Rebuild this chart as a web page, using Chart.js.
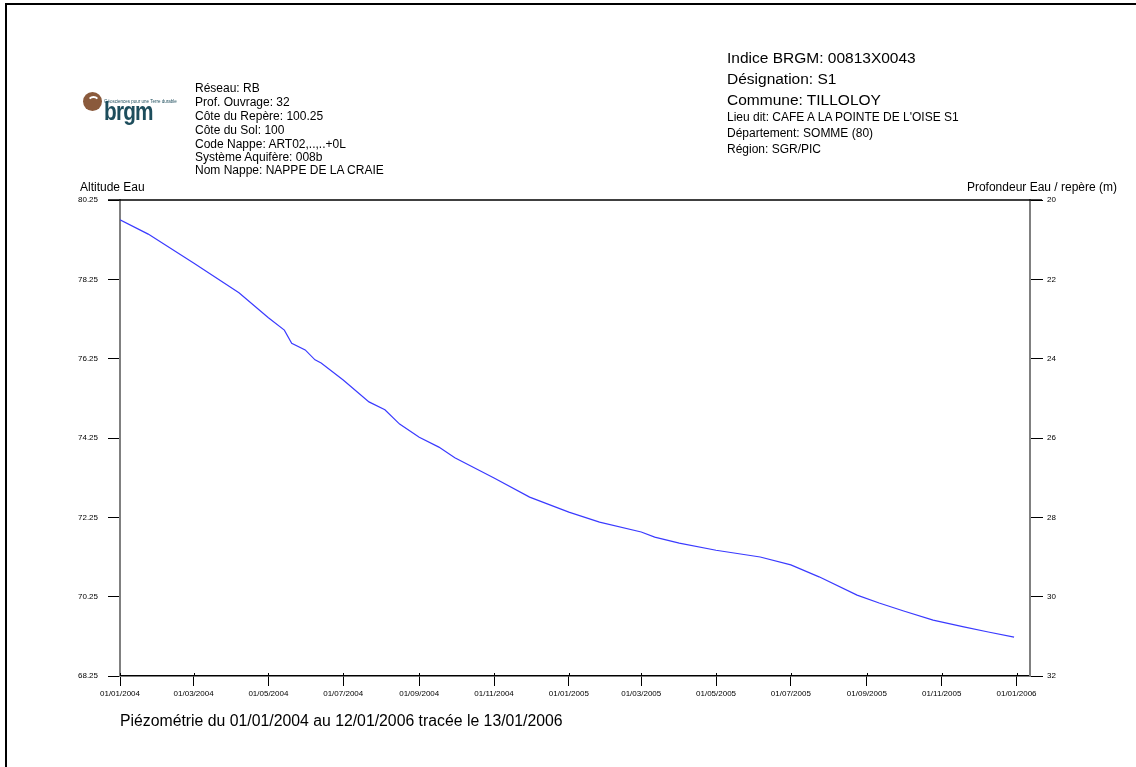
<!DOCTYPE html>
<html>
<head>
<meta charset="utf-8">
<script src="https://cdn.jsdelivr.net/npm/chart.js@4.4.1/dist/chart.umd.min.js"></script>
<style>
  html, body { margin: 0; padding: 0; background: #fff; overflow: hidden; }
  body { width: 1136px; height: 767px; position: relative; font-family: "Liberation Sans", Arial, sans-serif; color: #000; }
  #frame-top { position: absolute; left: 5px; top: 3px; width: 1131px; height: 2px; background: #000; }
  #frame-left { position: absolute; left: 5px; top: 3px; width: 2px; height: 764px; background: #000; }
  #chart { position: absolute; left: 0; top: 0; }
  .txt { position: absolute; white-space: nowrap; line-height: 1; }
  .s12 { font-size: 12px; }
  .s15 { font-size: 15.5px; }
  .cap { font-size: 15.8px; }
  #logo-dot { position: absolute; left: 83px; top: 92px; width: 19px; height: 19px; border-radius: 50%; background: #8a5a3c; overflow: hidden; }
  #logo-dot::after { content: ""; position: absolute; left: 4px; top: 4px; width: 9px; height: 9px; border-radius: 50%; border: 2px solid #fff; border-bottom-color: transparent; border-left-color: transparent; border-right-color: transparent; }
  #logo-word { position: absolute; left: 104px; top: 98px; font-size: 26px; font-weight: bold; color: #1d4d5c; letter-spacing: -1px; transform: scaleX(0.8); transform-origin: left top; line-height: 1; font-family: "Liberation Sans Narrow", "Liberation Sans", Arial, sans-serif; }
  #logo-tag { position: absolute; left: 104px; top: 99px; font-size: 4.5px; color: #1d4d5c; white-space: nowrap; }
</style>
</head>
<body>
<div id="frame-top"></div>
<div id="frame-left"></div>
<canvas id="chart" width="1136" height="767"></canvas>

<div id="logo-dot"></div>
<div id="logo-tag">Géosciences pour une Terre durable</div>
<div id="logo-word">brgm</div>

<div class="txt s12" style="left:195px; top:82px;">Réseau: RB</div>
<div class="txt s12" style="left:195px; top:96px;">Prof. Ouvrage: 32</div>
<div class="txt s12" style="left:195px; top:110px;">Côte du Repère: 100.25</div>
<div class="txt s12" style="left:195px; top:124px;">Côte du Sol: 100</div>
<div class="txt s12" style="left:195px; top:138px;">Code Nappe: ART02,..,..+0L</div>
<div class="txt s12" style="left:195px; top:151px;">Système Aquifère: 008b</div>
<div class="txt s12" style="left:195px; top:164px;">Nom Nappe: NAPPE DE LA CRAIE</div>

<div class="txt s15" style="left:727px; top:50px;">Indice BRGM: 00813X0043</div>
<div class="txt s15" style="left:727px; top:71px;">Désignation: S1</div>
<div class="txt s15" style="left:727px; top:92px;">Commune: TILLOLOY</div>
<div class="txt s12" style="left:727px; top:111px;">Lieu dit: CAFE A LA POINTE DE L'OISE S1</div>
<div class="txt s12" style="left:727px; top:127px;">Département: SOMME (80)</div>
<div class="txt s12" style="left:727px; top:143px;">Région: SGR/PIC</div>

<div class="txt s12" style="left:80px; top:181px;">Altitude Eau</div>
<div class="txt s12" style="right:19px; top:181px;">Profondeur Eau / repère (m)</div>

<div class="txt cap" style="left:120px; top:713px;">Piézométrie du 01/01/2004 au 12/01/2006 tracée le 13/01/2006</div>

<script>
// measurement dates (dd/mm/yyyy) and water altitude (m NGF)
const dates = [
  "01/01/2004", "24/01/2004", "01/03/2004", "07/04/2004", "01/05/2004", "14/05/2004",
  "20/05/2004", "31/05/2004", "08/06/2004", "13/06/2004", "01/07/2004", "22/07/2004",
  "04/08/2004", "16/08/2004", "01/09/2004", "17/09/2004", "30/09/2004", "01/11/2004",
  "30/11/2004", "01/01/2005", "26/01/2005", "01/03/2005", "12/03/2005", "01/04/2005",
  "01/05/2005", "06/06/2005", "01/07/2005", "24/07/2005", "24/08/2005", "11/09/2005",
  "01/10/2005", "25/10/2005", "19/11/2005", "09/12/2005", "30/12/2005"
];
const altitude = [
  79.75, 79.39, 78.66, 77.91, 77.28, 76.97,
  76.64, 76.47, 76.22, 76.14, 75.71, 75.16,
  74.96, 74.60, 74.27, 74.02, 73.75, 73.24,
  72.76, 72.38, 72.13, 71.88, 71.75, 71.60,
  71.42, 71.25, 71.05, 70.75, 70.29, 70.09,
  69.89, 69.66, 69.49, 69.36, 69.23
];

const startDate = "01/01/2004";
const endDate = "12/01/2006";
const xTickLabels = [
  "01/01/2004", "01/03/2004", "01/05/2004", "01/07/2004", "01/09/2004", "01/11/2004",
  "01/01/2005", "01/03/2005", "01/05/2005", "01/07/2005", "01/09/2005", "01/11/2005",
  "01/01/2006"
];
const altTicks = [68.25, 70.25, 72.25, 74.25, 76.25, 78.25, 80.25];
const depthTicks = [20, 22, 24, 26, 28, 30, 32];

const refLevel = 100.25; // côte du repère

function dayNum(s) {
  const p = s.split("/");
  return Date.UTC(+p[2], +p[1] - 1, +p[0]) / 86400000;
}
const day0 = dayNum(startDate);
const toX = s => dayNum(s) - day0;
const xTickValues = xTickLabels.map(toX);

const points = dates.map((d, i) => ({ x: toX(d), y: altitude[i] }));

const tickFont = { family: "'Liberation Sans Narrow', 'Arial Narrow', 'Liberation Sans', Arial", size: 8 };

// top frame line across the plot, and small upward stubs on the x ticks
const frameLines = {
  id: 'frameLines',
  afterDraw(chart) {
    const a = chart.chartArea;
    const c = chart.ctx;
    const xs = chart.scales.x;
    c.save();
    c.strokeStyle = '#000';
    c.lineWidth = 1.5;
    c.beginPath();
    c.moveTo(a.left - 12, a.top);
    c.lineTo(a.right + 12, a.top);
    c.stroke();
    c.lineWidth = 1;
    c.beginPath();
    xTickValues.forEach(v => {
      const px = Math.round(xs.getPixelForValue(v)) + 0.5;
      c.moveTo(px, a.bottom - 3);
      c.lineTo(px, a.bottom);
    });
    c.stroke();
    c.restore();
  }
};

new Chart(document.getElementById('chart'), {
  type: 'line',
  data: {
    datasets: [{
      data: points,
      borderColor: '#3a3aff',
      borderWidth: 1.2,
      pointRadius: 0,
      tension: 0,
      yAxisID: 'y'
    }]
  },
  options: {
    responsive: false,
    animation: false,
    devicePixelRatio: 1,
    layout: { padding: { top: 200, left: 0, right: 0, bottom: 0 } },
    plugins: { legend: { display: false }, tooltip: { enabled: false } },
    scales: {
      x: {
        type: 'linear',
        min: 0,
        max: toX(endDate),
        afterFit: s => { s.height = 91; },
        afterBuildTicks: s => { s.ticks = xTickValues.map(v => ({ value: v })); },
        ticks: {
          color: '#000',
          font: tickFont,
          padding: 3,
          maxRotation: 0,
          autoSkip: false,
          callback: (v, i) => xTickLabels[i]
        },
        grid: { drawOnChartArea: false, drawTicks: true, tickLength: 10, color: '#000', lineWidth: 1 },
        border: { display: true, color: '#000', width: 1.5 }
      },
      y: {
        position: 'left',
        min: altTicks[0],
        max: altTicks[altTicks.length - 1],
        afterFit: s => { s.width = 120; },
        afterBuildTicks: s => { s.ticks = altTicks.map(v => ({ value: v })); },
        ticks: { color: '#000', font: tickFont, padding: 10, callback: v => v.toFixed(2) },
        grid: { drawOnChartArea: false, drawTicks: true, tickLength: 12, color: '#000', lineWidth: 1 },
        border: { display: true, color: '#808080', width: 2 }
      },
      y1: {
        position: 'right',
        reverse: true,
        min: refLevel - altTicks[altTicks.length - 1],
        max: refLevel - altTicks[0],
        afterFit: s => { s.width = 106; },
        afterBuildTicks: s => { s.ticks = depthTicks.map(v => ({ value: v })); },
        ticks: { color: '#000', font: tickFont, padding: 4 },
        grid: { drawOnChartArea: false, drawTicks: true, tickLength: 13, color: '#000', lineWidth: 1 },
        border: { display: true, color: '#808080', width: 2 }
      }
    }
  },
  plugins: [frameLines]
});
</script>
</body>
</html>
